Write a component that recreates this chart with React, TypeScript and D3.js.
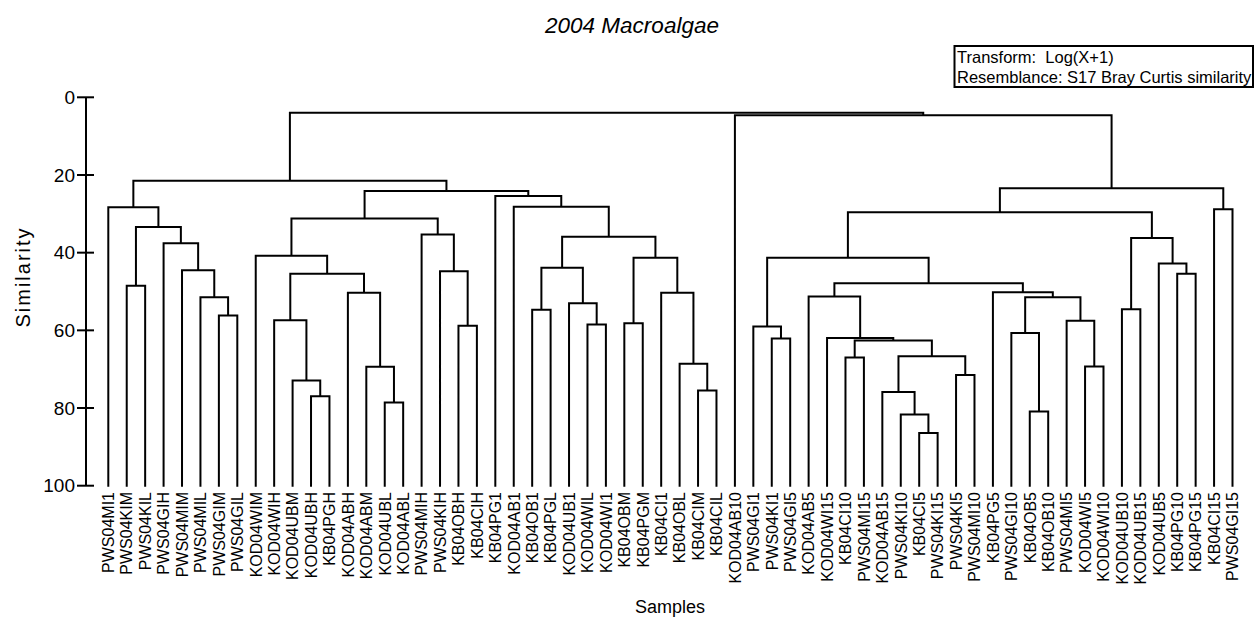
import React from "react";
import * as d3 from "d3";

const title = "2004 Macroalgae";
const legendLines = ["Transform:  Log(X+1)", "Resemblance: S17 Bray Curtis similarity"];
const xAxisTitle = "Samples";
const yAxisTitle = "Similarity";
const yTicks = [0, 20, 40, 60, 80, 100];

const samples = [
  "PWS04MI1", "PWS04KIM", "PWS04KIL", "PWS04GIH", "PWS04MIM", "PWS04MIL", "PWS04GIM", "PWS04GIL",
  "KOD04WIM", "KOD04WIH", "KOD04UBM", "KOD04UBH", "KB04PGH", "KOD04ABH", "KOD04ABM", "KOD04UBL",
  "KOD04ABL", "PWS04MIH", "PWS04KIH", "KB04OBH", "KB04CIH", "KB04PG1", "KOD04AB1", "KB04OB1",
  "KB04PGL", "KOD04UB1", "KOD04WIL", "KOD04WI1", "KB04OBM", "KB04PGM", "KB04CI1", "KB04OBL",
  "KB04CIM", "KB04CIL", "KOD04AB10", "PWS04GI1", "PWS04KI1", "PWS04GI5", "KOD04AB5", "KOD04WI15",
  "KB04CI10", "PWS04MI15", "KOD04AB15", "PWS04KI10", "KB04CI5", "PWS04KI15", "PWS04KI5", "PWS04MI10",
  "KB04PG5", "PWS04GI10", "KB04OB5", "KB04OB10", "PWS04MI5", "KOD04WI5", "KOD04WI10", "KOD04UB10",
  "KOD04UB15", "KOD04UB5", "KB04PG10", "KB04PG15", "KB04CI15", "PWS04GI15",
];

// merge list: [left, right, similarity]; strings are samples, numbers refer to earlier merges
type Ref = string | number;
const merges: [Ref, Ref, number][] = [
  ["PWS04GIM", "PWS04GIL", 56.2], // 0
  ["PWS04MIL", 0, 51.5], // 1
  ["PWS04MIM", 1, 44.5], // 2
  ["PWS04GIH", 2, 37.6], // 3
  ["PWS04KIM", "PWS04KIL", 48.5], // 4
  [4, 3, 33.4], // 5
  ["PWS04MI1", 5, 28.3], // 6
  ["KOD04UBH", "KB04PGH", 77.0], // 7
  ["KOD04UBM", 7, 72.9], // 8
  ["KOD04WIH", 8, 57.4], // 9
  ["KOD04UBL", "KOD04ABL", 78.6], // 10
  ["KOD04ABM", 10, 69.4], // 11
  ["KOD04ABH", 11, 50.3], // 12
  [9, 12, 45.4], // 13
  ["KOD04WIM", 13, 40.8], // 14
  ["KB04OBH", "KB04CIH", 58.8], // 15
  ["PWS04KIH", 15, 44.8], // 16
  ["PWS04MIH", 16, 35.3], // 17
  [14, 17, 31.2], // 18
  ["KB04OB1", "KB04PGL", 54.7], // 19
  ["KOD04WIL", "KOD04WI1", 58.5], // 20
  ["KOD04UB1", 20, 53.0], // 21
  [19, 21, 43.9], // 22
  ["KB04OBM", "KB04PGM", 58.2], // 23
  ["KB04CIM", "KB04CIL", 75.5], // 24
  ["KB04OBL", 24, 68.6], // 25
  ["KB04CI1", 25, 50.3], // 26
  [23, 26, 41.3], // 27
  [22, 27, 35.9], // 28
  ["KOD04AB1", 28, 28.2], // 29
  ["KB04PG1", 29, 25.4], // 30
  [18, 30, 24.1], // 31
  [6, 31, 21.5], // 32
  ["PWS04KI1", "PWS04GI5", 62.1], // 33
  ["PWS04GI1", 33, 59.0], // 34
  ["KB04CI5", "PWS04KI15", 86.4], // 35
  ["PWS04KI10", 35, 81.7], // 36
  ["KOD04AB15", 36, 75.9], // 37
  ["PWS04KI5", "PWS04MI10", 71.5], // 38
  [37, 38, 66.7], // 39
  ["KB04CI10", "PWS04MI15", 67.0], // 40
  [40, 39, 62.6], // 41
  ["KOD04WI15", 41, 62.0], // 42
  ["KOD04AB5", 42, 51.3], // 43
  ["KB04OB5", "KB04OB10", 80.9], // 44
  ["PWS04GI10", 44, 60.7], // 45
  ["KOD04WI5", "KOD04WI10", 69.3], // 46
  ["PWS04MI5", 46, 57.5], // 47
  [45, 47, 51.5], // 48
  ["KB04PG5", 48, 50.2], // 49
  [43, 49, 47.9], // 50
  [34, 50, 41.3], // 51
  ["KOD04UB10", "KOD04UB15", 54.6], // 52
  ["KB04PG10", "KB04PG15", 45.4], // 53
  ["KOD04UB5", 53, 42.8], // 54
  [52, 54, 36.2], // 55
  [51, 55, 29.6], // 56
  ["KB04CI15", "PWS04GI15", 28.8], // 57
  [56, 57, 23.4], // 58
  ["KOD04AB10", 58, 4.6], // 59
  [32, 59, 4.0], // 60
];

const FONT = "'Liberation Sans', Arial, Helvetica, sans-serif";

export default function App() {
  const W = 1256;
  const H = 619;
  const xScale = d3.scalePoint<string>().domain(samples).range([108.3, 1232.5]);
  const yScale = d3.scaleLinear().domain([0, 100]).range([97.3, 485.7]);
  const axisX = 86;

  const nodePos: { x: number; y: number }[] = [];
  const pos = (r: Ref) =>
    typeof r === "string" ? { x: xScale(r) as number, y: yScale(100) } : nodePos[r];
  const segs: { x1: number; y1: number; x2: number; y2: number }[] = [];
  merges.forEach(([a, b, s]) => {
    const pa = pos(a);
    const pb = pos(b);
    const y = yScale(s);
    segs.push({ x1: pa.x, y1: pa.y, x2: pa.x, y2: y });
    segs.push({ x1: pb.x, y1: pb.y, x2: pb.x, y2: y });
    segs.push({ x1: pa.x, y1: y, x2: pb.x, y2: y });
    nodePos.push({ x: (pa.x + pb.x) / 2, y });
  });
  const path = d3.path();
  segs.forEach((s) => {
    path.moveTo(s.x1, s.y1);
    path.lineTo(s.x2, s.y2);
  });

  return (
    <svg
      width={W}
      height={H}
      style={{ position: "absolute", left: 0, top: 0, background: "#fff" }}
      fontFamily={FONT}
    >
      <rect x={0} y={0} width={W} height={H} fill="#fff" />
      <text x={632} y={33} fontSize={22.5} fontStyle="italic" textAnchor="middle" fill="#000">
        {title}
      </text>

      <rect x={954.5} y={46} width={298.5} height={41} fill="none" stroke="#000" strokeWidth={2} />
      {legendLines.map((t, i) => (
        <text key={i} x={957} y={63 + i * 20} fontSize={16.5} fill="#000" style={{ whiteSpace: "pre" }}>
          {t}
        </text>
      ))}

      {/* y axis */}
      <line x1={axisX} x2={axisX} y1={yScale(0)} y2={yScale(100)} stroke="#000" strokeWidth={2} />
      {yTicks.map((t) => (
        <g key={t} transform={`translate(0,${yScale(t)})`}>
          <line x1={77} x2={94} y1={0} y2={0} stroke="#000" strokeWidth={2} />
          <text x={75} y={0} dy="0.35em" fontSize={19} textAnchor="end" fill="#000">
            {t}
          </text>
        </g>
      ))}
      <text
        transform={`translate(30,277) rotate(-90)`}
        fontSize={20}
        letterSpacing={2}
        textAnchor="middle"
        fill="#000"
      >
        {yAxisTitle}
      </text>

      {/* dendrogram */}
      <path d={path.toString()} fill="none" stroke="#000" strokeWidth={2} strokeLinecap="square" />

      {/* leaf labels */}
      {samples.map((s) => (
        <text
          key={s}
          transform={`translate(${xScale(s)},492) rotate(-90)`}
          dy="0.36em"
          fontSize={16}
          textAnchor="end"
          fill="#000"
        >
          {s}
        </text>
      ))}

      <text x={670} y={613} fontSize={18} textAnchor="middle" fill="#000">
        {xAxisTitle}
      </text>
    </svg>
  );
}
